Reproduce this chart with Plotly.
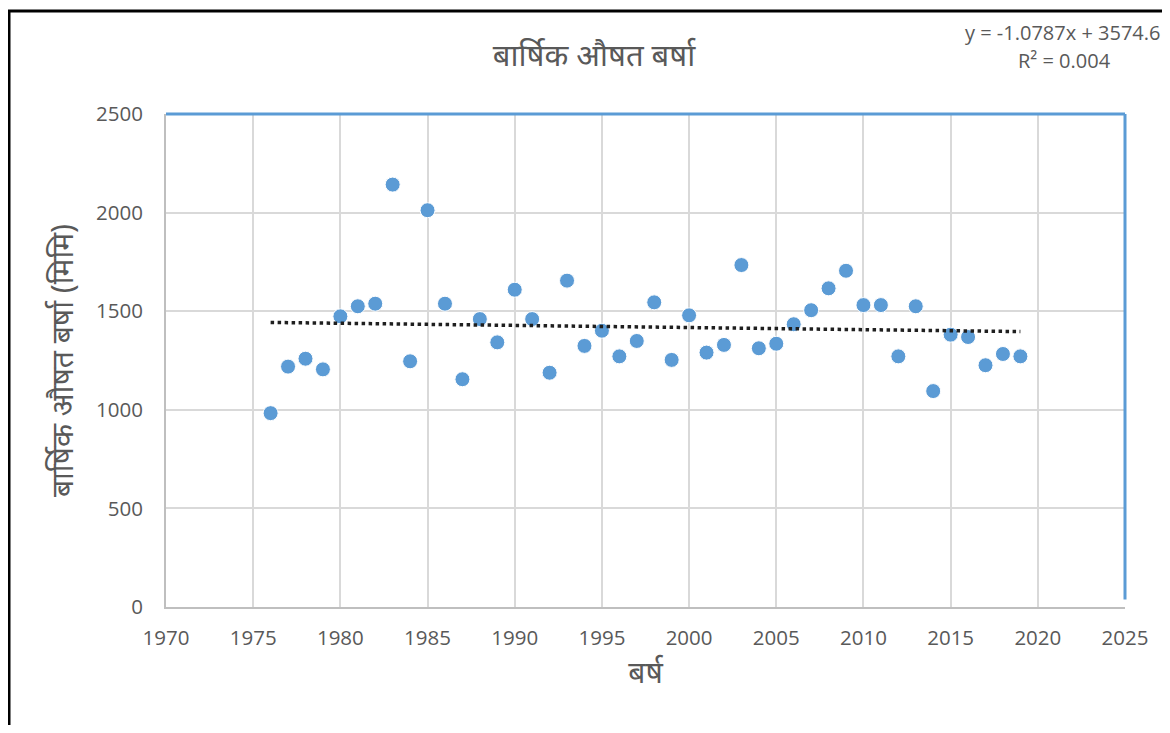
import plotly.graph_objects as go

years = list(range(1976, 2020))
rainfall = [983, 1219, 1259, 1205, 1474, 1525, 1538, 2142, 1246, 2012,
            1538, 1155, 1460, 1342, 1609, 1460, 1188, 1655, 1324, 1401,
            1271, 1349, 1545, 1253, 1479, 1290, 1329, 1734, 1312, 1335,
            1434, 1505, 1616, 1705, 1531, 1531, 1271, 1525, 1095, 1381,
            1369, 1226, 1283, 1271]
slope = -1.0787
intercept = 3574.6
r2 = 0.004
x_ticks = [1970, 1975, 1980, 1985, 1990, 1995, 2000, 2005, 2010, 2015, 2020, 2025]
y_ticks = [0, 500, 1000, 1500, 2000, 2500]

title = "बार्षिक औषत बर्षा"
x_title = "बर्ष"
y_title = "बार्षिक औषत बर्षा (मिमि)"

trend_x = [years[0], years[-1]]
trend_y = [slope * v + intercept for v in trend_x]

# page has an 8px body margin; figure coords = screen coords - 8
W, H = 1154, 717
L, R, T, B = 158, 37, 106, 118
pw, ph = W - L - R, H - T - B


def px(xs):
    return (xs - 8 - L) / pw


def py(ys):
    return (H - (ys - 8) - B) / ph


fig = go.Figure()
fig.add_trace(go.Scatter(x=years, y=rainfall, mode="markers",
                         marker=dict(color="#5b9bd5", size=15,
                                     line=dict(color="white", width=1)),
                         showlegend=False))
fig.add_trace(go.Scatter(x=trend_x, y=trend_y, mode="lines",
                         line=dict(color="#1f1f1f", width=3.5, dash="dot"),
                         showlegend=False))

font_fam = "Open Sans, sans-serif"
dev_font = "Noto Sans, sans-serif"
fig.update_layout(
    width=W, height=H,
    margin=dict(l=L, r=R, t=T, b=B),
    plot_bgcolor="white", paper_bgcolor="white",
    title=dict(text=title, x=(594 - 8) / W, xanchor="center",
               y=1 - (55 - 8) / H, yanchor="middle",
               font=dict(size=31, color="#595959", family=dev_font)),
    xaxis=dict(range=[1970, 2025], tickvals=x_ticks, showgrid=True,
               gridcolor="#d9d9d9", gridwidth=2, zeroline=False,
               showline=True, linecolor="#bfbfbf", linewidth=2,
               ticks="", ticklabelstandoff=11,
               tickfont=dict(size=20.5, color="#595959", family=font_fam),
               title=dict(text=x_title, font=dict(size=30, color="#595959",
                                                  family=dev_font),
                          standoff=12)),
    yaxis=dict(range=[0, 2500], tickvals=y_ticks, showgrid=True,
               gridcolor="#d9d9d9", gridwidth=2, zeroline=False,
               showline=True, linecolor="#bfbfbf", linewidth=2,
               ticks="", ticklabelstandoff=17,
               tickfont=dict(size=20.5, color="#595959", family=font_fam),
               title=dict(text=y_title, font=dict(size=30, color="#595959",
                                                  family=dev_font),
                          standoff=14)),
    shapes=[
        dict(type="line", xref="x domain", yref="y domain", x0=0, x1=1, y0=1, y1=1,
             line=dict(color="#5b9bd5", width=3)),
        dict(type="line", xref="x domain", yref="y domain", x0=1, x1=1, y0=0.015, y1=1,
             line=dict(color="#5b9bd5", width=3)),
        dict(type="rect", xref="paper", yref="paper",
             x0=px(9), x1=px(1200), y0=py(760), y1=py(11),
             line=dict(color="black", width=3), fillcolor="rgba(0,0,0,0)", layer="above"),
    ],
    annotations=[
        dict(text=f"y = {slope}x + {intercept}", xref="paper", yref="paper",
             x=px(1162), y=py(32), xanchor="right", yanchor="middle",
             showarrow=False, font=dict(size=20, color="#595959", family=font_fam)),
        dict(text=f"R² = {r2}", xref="paper", yref="paper",
             x=px(1064), y=py(60), xanchor="center", yanchor="middle",
             showarrow=False, font=dict(size=20, color="#595959", family=font_fam)),
    ],
)

fig.write_html("out.html")
